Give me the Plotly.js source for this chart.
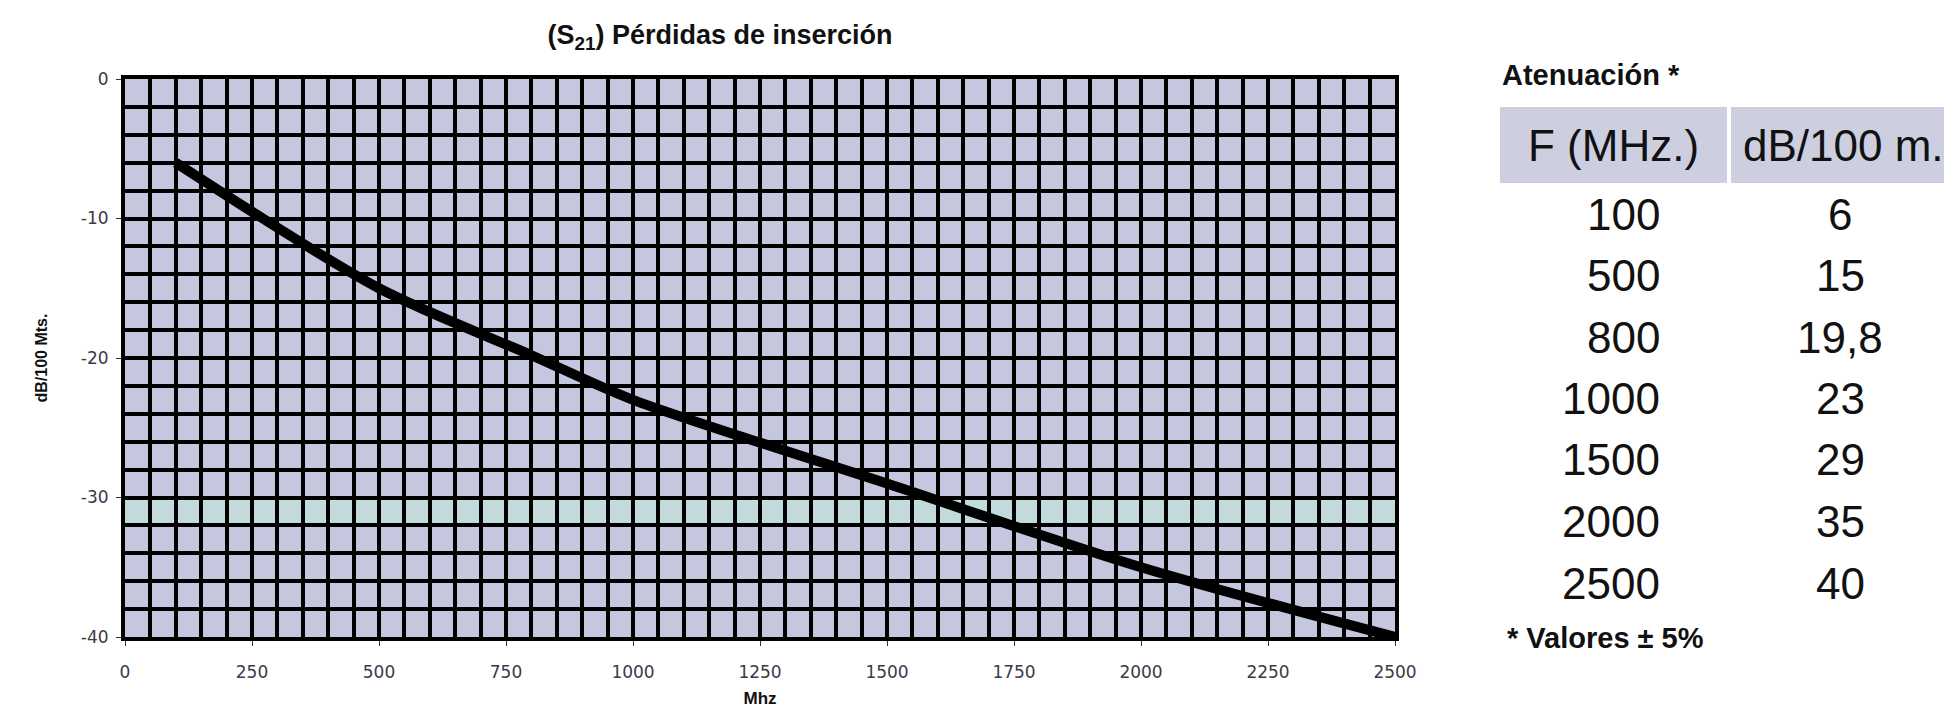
<!DOCTYPE html>
<html>
<head>
<meta charset="utf-8">
<script src="https://cdn.plot.ly/plotly-3.0.1.min.js"></script>
<style>
  html, body { margin: 0; padding: 0; background: #fff; }
  #chart { width: 1944px; height: 713px; }
</style>
</head>
<body>
<div id="chart"></div>
<script>
// ---- Data ----
const freqMHz = [100, 500, 800, 1000, 1500, 2000, 2500];
const attenDb = [6, 15, 19.8, 23, 29, 35, 40];
const xTickVals = [0, 250, 500, 750, 1000, 1250, 1500, 1750, 2000, 2250, 2500];
const yTickVals = [0, -10, -20, -30, -40];
const yTickText = ['0', '-10', '-20', '-30', '-40'];
const tableHeaders = ['F (MHz.)', 'dB/100 m.'];
const chartTitle = '(S<sub>21</sub>) Pérdidas de inserción';
const tableTitle = 'Atenuación *';
const tableNote = '* Valores ± 5%';

// ---- Layout helpers (pixel -> paper) ----
const W = 1944, H = 713, L = 125, R = 549, T = 79, B = 76;
const pw = W - L - R, ph = H - T - B;
const fx = px => (px - L) / pw;
const fy = py => 1 - (py - T) / ph;

const FONT = 'Liberation Sans, Arial, sans-serif';
const cellColor = '#c4c7dd';

const trace = {
  x: freqMHz,
  y: attenDb.map(v => -v),
  type: 'scatter',
  mode: 'lines',
  line: { color: '#000', width: 10, shape: 'spline', smoothing: 0.8 },
  hoverinfo: 'x+y'
};

const annotations = [];
annotations.push({ xref: 'paper', yref: 'paper', x: fx(1500), y: fy(75), xanchor: 'left', yanchor: 'middle',
  text: '<b>' + tableTitle + '</b>', showarrow: false, font: { family: FONT, size: 29, color: '#111' } });
annotations.push({ xref: 'paper', yref: 'paper', x: fx(1613), y: fy(145), xanchor: 'center', yanchor: 'middle',
  text: tableHeaders[0], showarrow: false, font: { family: FONT, size: 44, color: '#111' } });
annotations.push({ xref: 'paper', yref: 'paper', x: fx(1843), y: fy(145), xanchor: 'center', yanchor: 'middle',
  text: tableHeaders[1], showarrow: false, font: { family: FONT, size: 44, color: '#111' } });
freqMHz.forEach((f, i) => {
  const yc = 214 + i * 61.5;
  annotations.push({ xref: 'paper', yref: 'paper', x: fx(1662), y: fy(yc), xanchor: 'right', yanchor: 'middle',
    text: String(f), showarrow: false, font: { family: FONT, size: 44, color: '#111' } });
  annotations.push({ xref: 'paper', yref: 'paper', x: fx(1840), y: fy(yc), xanchor: 'center', yanchor: 'middle',
    text: String(attenDb[i]).replace('.', ','), showarrow: false, font: { family: FONT, size: 44, color: '#111' } });
});
annotations.push({ xref: 'paper', yref: 'paper', x: fx(1505), y: fy(638), xanchor: 'left', yanchor: 'middle',
  text: '<b>' + tableNote + '</b>', showarrow: false, font: { family: FONT, size: 29, color: '#111' } });

const shapes = [
  { type: 'rect', xref: 'x', yref: 'y', x0: 0, x1: 2500, y0: -32, y1: -30,
    fillcolor: '#c3dadc', line: { width: 0 }, layer: 'below' },
  { type: 'rect', xref: 'paper', yref: 'paper', x0: fx(1500), x1: fx(1727), y0: fy(183), y1: fy(107),
    fillcolor: '#cdcfe0', line: { width: 0 } },
  { type: 'rect', xref: 'paper', yref: 'paper', x0: fx(1731), x1: fx(1944), y0: fy(183), y1: fy(107),
    fillcolor: '#cdcfe0', line: { width: 0 } }
];

const axisCommon = {
  showline: true, mirror: true, linecolor: '#000', linewidth: 4,
  showgrid: true, gridcolor: '#000', gridwidth: 4,
  zeroline: false, ticks: 'outside', ticklen: 5, tickwidth: 1, tickcolor: '#333',
  tickfont: { family: 'DejaVu Sans, sans-serif', size: 17, color: '#3a3a46' },
  fixedrange: true
};

const layout = {
  width: W, height: H,
  margin: { l: L, r: R, t: T, b: B },
  paper_bgcolor: '#fff',
  plot_bgcolor: cellColor,
  showlegend: false,
  title: {
    text: '<b>' + chartTitle + '</b>',
    xref: 'container', yref: 'container',
    x: 720 / W, y: 1 - 35 / H, xanchor: 'center', yanchor: 'middle',
    font: { family: FONT, size: 27, color: '#111' }
  },
  xaxis: Object.assign({}, axisCommon, {
    range: [0, 2500], tickmode: 'array', tickvals: xTickVals,
    ticklabelstandoff: 12,
    minor: { dtick: 50, showgrid: true, gridcolor: '#000', gridwidth: 4, ticks: '' },
    title: { text: '<b>Mhz</b>', font: { family: FONT, size: 17, color: '#111' }, standoff: 12 }
  }),
  yaxis: Object.assign({}, axisCommon, {
    range: [-40, 0], tickmode: 'array', tickvals: yTickVals, ticktext: yTickText,
    ticklabelstandoff: 4,
    minor: { dtick: 2, showgrid: true, gridcolor: '#000', gridwidth: 4, ticks: '' },
    title: { text: '<b>dB/100 Mts.</b>', font: { family: FONT, size: 16, color: '#111' }, standoff: 30 }
  }),
  annotations: annotations,
  shapes: shapes
};

Plotly.newPlot('chart', [trace], layout, { displayModeBar: false, staticPlot: true });
</script>
</body>
</html>
